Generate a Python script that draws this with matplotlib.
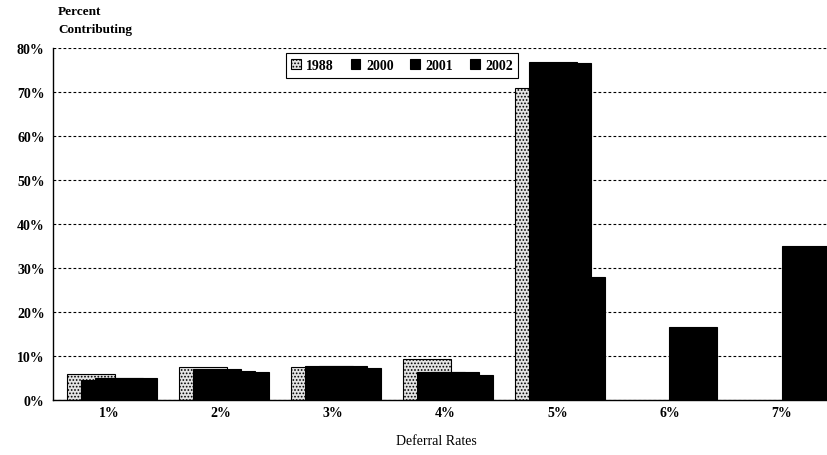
import matplotlib
matplotlib.use("Agg")
import matplotlib.pyplot as plt
import numpy as np

# deferral rate categories and share of participants contributing at each rate
rates = ["1%", "2%", "3%", "4%", "5%", "6%", "7%"]
years = ["1988", "2000", "2001", "2002"]
pct_1988 = [6.0, 7.4, 7.6, 9.4, 70.8, np.nan, np.nan]
pct_2000 = [4.6, 7.0, 7.7, 6.3, 76.9, np.nan, np.nan]
pct_2001 = [5.1, 6.5, 7.7, 6.3, 76.5, np.nan, np.nan]
pct_2002 = [5.1, 6.3, 7.3, 5.6, 28.0, 16.6, 35.0]
yticks = [0, 10, 20, 30, 40, 50, 60, 70, 80]

plt.rcParams['font.family'] = ['Liberation Serif', 'DejaVu Serif']
plt.rcParams['hatch.color'] = '#808080'
plt.rcParams['hatch.linewidth'] = 0.8

fig = plt.figure(figsize=(8.27, 4.56), dpi=100)
ax = fig.add_axes([0.064, 0.1206, 0.949, 0.772])

series = [pct_1988, pct_2000, pct_2001, pct_2002]
faces = ['#e4e4e4', 'black', 'black', 'black']
hatches = ['.....', None, None, None]
width = 0.428
step = 0.1247
x = np.arange(len(rates))
for i, (vals, fc, h, lab) in enumerate(zip(series, faces, hatches, years)):
    ax.bar(x - 0.375 + i * step, vals, width=width, align='edge',
           color=fc, edgecolor='black', linewidth=0.8, hatch=h,
           label=lab, zorder=2 + i)

ax.set_xlim(-0.5, 6.5)
ax.set_ylim(0, 80)
ax.set_yticks(yticks)
ax.set_yticklabels([f"{v}%" for v in yticks], fontsize=10, fontweight='bold')
ax.set_xticks(x)
ax.set_xticklabels(rates, fontsize=10, fontweight='bold')
ax.tick_params(axis='both', length=0)
ax.tick_params(axis='x', pad=4)
ax.tick_params(axis='y', pad=6)

ax.yaxis.grid(True, linestyle=(0, (2.5, 2)), color='black', linewidth=0.8)
ax.set_axisbelow(True)
for side in ['top', 'right']:
    ax.spines[side].set_visible(False)
ax.spines['left'].set_linewidth(1.0)
ax.spines['bottom'].set_linewidth(1.0)

ax.set_xlabel("Deferral Rates", fontsize=10, labelpad=12)
ax.xaxis.set_label_coords(0.489, -0.097)
fig.text(58 / 827, 1 - 12 / 456, "Percent", fontsize=9.5, fontweight='bold',
         va='center', ha='left')
fig.text(58 / 827, 1 - 30 / 456, "Contributing", fontsize=9.5, fontweight='bold',
         va='center', ha='left')

leg = ax.legend(loc='center', bbox_to_anchor=(402 / 827, 1 - 66.5 / 456),
                bbox_transform=fig.transFigure, ncol=4, fancybox=False,
                edgecolor='black', framealpha=1, handlelength=0.7,
                handleheight=0.7, handletextpad=0.4, columnspacing=1.2,
                borderpad=0.4, prop={'weight': 'bold', 'size': 10})
leg.get_frame().set_linewidth(0.8)

fig.savefig("out.png", dpi=100)
